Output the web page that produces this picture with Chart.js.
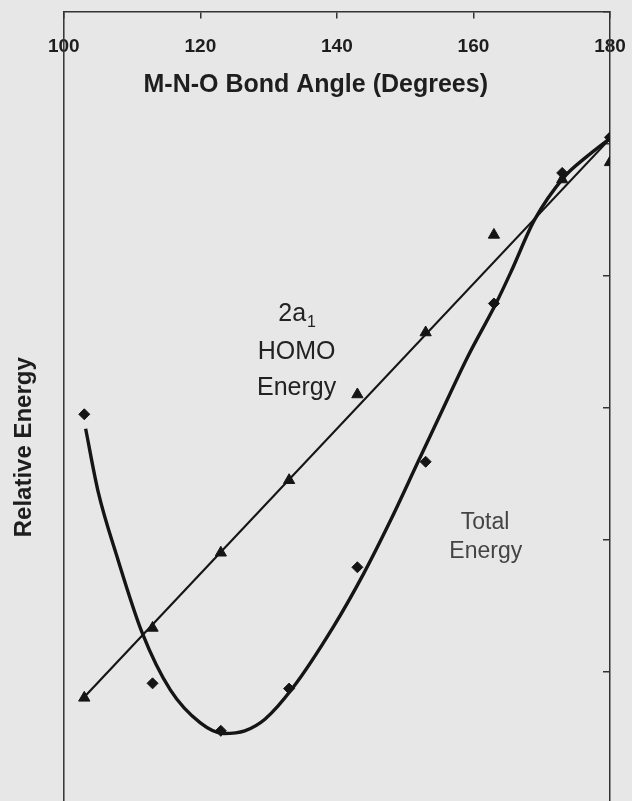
<!DOCTYPE html>
<html><head><meta charset="utf-8">
<script src="https://cdn.jsdelivr.net/npm/chart.js@4/dist/chart.umd.min.js"></script>
<style>
html,body{margin:0;padding:0;background:#e7e7e7;overflow:hidden;}
#wrap{width:632px;height:890px;position:relative;}
</style></head><body>
<div id="wrap"><canvas id="c"></canvas></div>
<script>
// ---- data ----
const angles = [103, 113, 123, 133, 143, 153, 163, 173, 180];
const homoEnergy = [0.80, 1.33, 1.90, 2.45, 3.10, 3.57, 4.31, 4.73, 4.86];
const totalEnergy = [2.95, 0.91, 0.55, 0.87, 1.79, 2.59, 3.79, 4.78, 5.05];
// linear trend line of the 2a1 HOMO energy (end points)
const homoFitAngles = [102.9, 180.2];
const homoFitValues = [0.80, 5.05];
// smooth fitted curve of the total energy
const totalCurveAngles = [103.2, 105.0, 107.8, 111.5, 115.6, 120.0, 123.4, 126.5, 129.5, 133.6, 139.5, 143.9, 147.9, 151.8, 154.8, 159.2, 163.3, 165.5, 168.9, 173.3, 176.5, 180.2];
const totalCurveValues = [2.84, 2.37, 1.87, 1.29, 0.86, 0.61, 0.53, 0.55, 0.64, 0.88, 1.34, 1.74, 2.15, 2.58, 2.91, 3.39, 3.79, 4.03, 4.42, 4.75, 4.90, 5.05];
const xTicks = [100, 120, 140, 160, 180];
const yTicks = [0, 1, 2, 3, 4, 5, 6];
const xTitle = 'M-N-O Bond Angle (Degrees)';
const yTitle = 'Relative Energy';

const pts = (xs, ys) => xs.map((x, i) => ({x: x, y: ys[i]}));
const FONT = "'Liberation Sans', Arial, sans-serif";
const INK = '#151515';

const framePlugin = {
  id: 'frame',
  beforeDatasetsDraw(chart) {
    const a = chart.chartArea, ctx = chart.ctx;
    ctx.save();
    ctx.strokeStyle = '#333';
    ctx.lineWidth = 1.5;
    ctx.beginPath();
    ctx.moveTo(a.left, a.top);
    ctx.lineTo(a.left, a.bottom);
    ctx.lineTo(a.right, a.bottom);
    ctx.stroke();
    ctx.restore();
  }
};

const labelPlugin = {
  id: 'labels',
  afterDatasetsDraw(chart) {
    const ctx = chart.ctx, sx = chart.scales.x, sy = chart.scales.y;
    ctx.save();
    ctx.textBaseline = 'middle';
    ctx.textAlign = 'center';
    // x axis title (sits inside the frame, below the tick labels)
    ctx.fillStyle = '#1e1e1e';
    ctx.font = 'bold 25px ' + FONT;
    ctx.fillText(xTitle, sx.getPixelForValue(136.9), chart.chartArea.top + 73);
    // 2a1 HOMO Energy
    ctx.fillStyle = '#222';
    ctx.font = '25px ' + FONT;
    const cx = sx.getPixelForValue(134.1);
    const w2a = ctx.measureText('2a').width;
    ctx.font = '16px ' + FONT;
    const w1 = ctx.measureText('1').width;
    ctx.font = '25px ' + FONT;
    ctx.textAlign = 'left';
    const start = cx - (w2a + w1) / 2;
    ctx.fillText('2a', start, sy.getPixelForValue(3.71));
    ctx.font = '16px ' + FONT;
    ctx.fillText('1', start + w2a + 1, sy.getPixelForValue(3.71) + 9);
    ctx.textAlign = 'center';
    ctx.font = '25px ' + FONT;
    ctx.fillText('HOMO', cx, sy.getPixelForValue(3.42));
    ctx.fillText('Energy', cx, sy.getPixelForValue(3.15));
    // Total Energy
    ctx.fillStyle = '#444';
    ctx.font = '23px ' + FONT;
    ctx.fillText('Total', sx.getPixelForValue(161.7), sy.getPixelForValue(2.13));
    ctx.fillText('Energy', sx.getPixelForValue(161.8), sy.getPixelForValue(1.91));
    ctx.restore();
  }
};

new Chart(document.getElementById('c'), {
  type: 'scatter',
  data: {
    datasets: [
      {
        label: '2a1 HOMO Energy',
        data: pts(angles, homoEnergy),
        pointStyle: 'triangle', pointRadius: 6.5,
        backgroundColor: INK, borderColor: INK, borderWidth: 1,
        showLine: false, xAxisID: 'x', yAxisID: 'y'
      },
      {
        label: 'Total Energy',
        data: pts(angles, totalEnergy),
        pointStyle: 'rectRot', pointRadius: 5.5,
        backgroundColor: INK, borderColor: INK, borderWidth: 1,
        showLine: false, xAxisID: 'x', yAxisID: 'y'
      },
      {
        label: 'HOMO trend',
        data: pts(homoFitAngles, homoFitValues),
        showLine: true, pointRadius: 0,
        borderColor: INK, borderWidth: 2.2,
        xAxisID: 'x', yAxisID: 'y'
      },
      {
        label: 'Total fit',
        data: pts(totalCurveAngles, totalCurveValues),
        showLine: true, pointRadius: 0,
        cubicInterpolationMode: 'monotone',
        borderColor: INK, borderWidth: 3.4,
        xAxisID: 'x', yAxisID: 'y'
      }
    ]
  },
  options: {
    responsive: true,
    maintainAspectRatio: false,
    animation: false,
    devicePixelRatio: 1,
    layout: {padding: {left: 0, right: 22, top: 12, bottom: 0}},
    plugins: {legend: {display: false}, tooltip: {enabled: false}},
    scales: {
      x: {
        type: 'linear', min: 100, max: 180,
        position: {y: 6},
        afterBuildTicks: s => { s.ticks = xTicks.map(v => ({value: v})); },
        grid: {drawOnChartArea: false, drawTicks: true, tickLength: 6, color: '#333', lineWidth: 1.5},
        border: {display: true, color: '#333', width: 1.5},
        ticks: {padding: 6, autoSkip: false, maxRotation: 0, color: '#1e1e1e',
                font: {family: FONT, size: 19, weight: 'bold', lineHeight: 2.4}},
        title: {display: false}
      },
      y: {
        type: 'linear', min: -0.6, max: 6,
        position: {x: 180},
        afterBuildTicks: s => { s.ticks = yTicks.map(v => ({value: v})); },
        grid: {drawOnChartArea: false, drawTicks: true, tickLength: 6, color: '#333', lineWidth: 1.5},
        border: {display: true, color: '#333', width: 1.5},
        ticks: {display: false}
      },
      yl: {
        type: 'linear', min: -0.6, max: 6, position: 'left',
        grid: {display: false, drawTicks: false},
        border: {display: false},
        ticks: {display: false},
        title: {display: true, text: yTitle, color: '#1e1e1e',
                font: {family: FONT, size: 24, weight: 'bold'}, padding: {top: 10, bottom: 25}}
      }
    }
  },
  plugins: [framePlugin, labelPlugin]
});
</script>
</body></html>
